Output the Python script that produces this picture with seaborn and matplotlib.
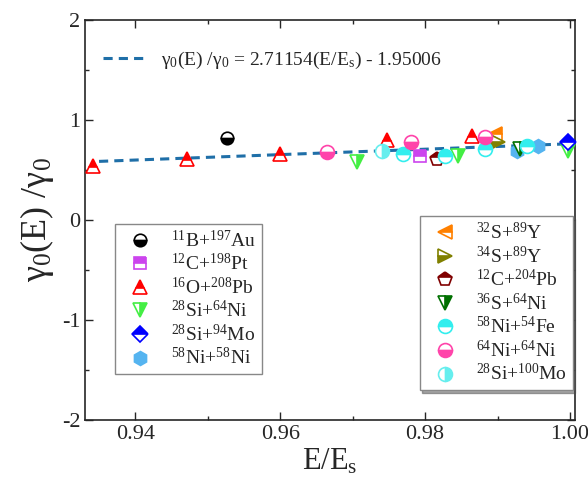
import numpy as np
import pandas as pd
import matplotlib
matplotlib.use('Agg')
import matplotlib.pyplot as plt
import seaborn as sns
from matplotlib.ticker import MultipleLocator

sns.set_style('ticks')
plt.rcParams['font.family'] = ['Liberation Serif', 'DejaVu Serif']
plt.rcParams['mathtext.fontset'] = 'custom'
plt.rcParams['mathtext.rm'] = 'Liberation Serif'
plt.rcParams['mathtext.it'] = 'Liberation Serif'
plt.rcParams['axes.unicode_minus'] = False

# ---- data ----
reactions = ['$^{11}$B+$^{197}$Au', '$^{12}$C+$^{198}$Pt', '$^{16}$O+$^{208}$Pb',
             '$^{28}$Si+$^{64}$Ni', '$^{28}$Si+$^{94}$Mo', '$^{58}$Ni+$^{58}$Ni',
             '$^{32}$S+$^{89}$Y', '$^{34}$S+$^{89}$Y', '$^{12}$C+$^{204}$Pb',
             '$^{36}$S+$^{64}$Ni', '$^{58}$Ni+$^{54}$Fe', '$^{64}$Ni+$^{64}$Ni',
             '$^{28}$Si+$^{100}$Mo']
x_vals = [[0.9527], [0.9793], [0.9342, 0.9472, 0.9600, 0.9748, 0.9865],
          [0.9706, 0.9846, 0.9997], [0.9997], [0.9927, 0.9956],
          [0.9897], [0.9901], [0.9817], [0.9931],
          [0.9770, 0.9828, 0.9883, 0.9941], [0.9665, 0.9780, 0.9883], [0.9740]]
y_vals = [[0.82], [0.64], [0.54, 0.61, 0.66, 0.80, 0.84],
          [0.58, 0.64, 0.69], [0.78], [0.69, 0.74],
          [0.86], [0.78], [0.61], [0.71],
          [0.66, 0.64, 0.71, 0.74], [0.68, 0.78, 0.83], [0.69]]
slope, intercept = 2.71154, -1.95006
fit_x = [0.935, 1.0]

styles = [  # marker, color, fillstyle, size
    ('o', 'black', 'bottom', 9),
    ('s', '#cc44ee', 'top', 8),
    ('^', 'red', 'top', 10),
    ('v', '#44ee44', 'right', 10),
    ('D', 'blue', 'top', 8),
    ('h', '#55b4f0', 'full', 10),
    ('<', '#ff8000', 'top', 10),
    ('>', '#808000', 'bottom', 10),
    ('p', '#800000', 'top', 10),
    ('v', '#007000', 'right', 10),
    ('o', '#33eeee', 'top', 10),
    ('o', '#ff44aa', 'bottom', 10),
    ('o', '#66eeee', 'right', 10),
]

fig = plt.figure(figsize=(5.88, 4.86), dpi=100)
ax = fig.add_axes([0.145, 0.136, 0.833, 0.823])

fit_df = pd.DataFrame({'x': fit_x, 'y': [slope * v + intercept for v in fit_x]})
sns.lineplot(data=fit_df, x='x', y='y', ax=ax, color='#1f6fa8', lw=2.2,
             linestyle=(0, (3, 2)),
             label='γ$_0$(E) /γ$_0$ = 2.71154(E/E$_\\mathrm{s}$) - 1.95006')

handles = []
for name, xs, ys, (m, c, fs, s) in zip(reactions, x_vals, y_vals, styles):
    h, = ax.plot(xs, ys, ls='none', marker=m, color=c, mec=c, mfc=c,
                 fillstyle=fs, markerfacecoloralt='white', ms=s, mew=1.2,
                 label=name, clip_on=False, zorder=3)
    handles.append(h)

leg0 = ax.legend(handles=[ax.get_lines()[0]], loc='upper left',
                 bbox_to_anchor=(0.0, 0.97), frameon=False, fontsize=14,
                 handlelength=2.2)
ax.add_artist(leg0)
leg1 = ax.legend(handles=handles[:6], loc='lower left', bbox_to_anchor=(0.04, 0.09),
                 fontsize=14, fancybox=False, edgecolor='#888888', framealpha=1,
                 handletextpad=0.6, borderpad=0.3, labelspacing=0.12)
ax.add_artist(leg1)
leg2 = ax.legend(handles=handles[6:], loc='lower right', bbox_to_anchor=(1.015, 0.05),
                 fontsize=14, fancybox=False, shadow=True, edgecolor='#888888',
                 framealpha=1, handletextpad=0.6, borderpad=0.3, labelspacing=0.12)

ax.set_xlim(0.9331, 1.0007)
ax.set_ylim(-2, 2)
ax.xaxis.set_major_locator(MultipleLocator(0.02))
ax.xaxis.set_minor_locator(MultipleLocator(0.01))
ax.yaxis.set_major_locator(MultipleLocator(1))
ax.yaxis.set_minor_locator(MultipleLocator(0.5))
ax.xaxis.set_major_formatter(matplotlib.ticker.FormatStrFormatter('%.2f'))
ax.tick_params(which='both', direction='in', top=True, right=True, labelsize=16)
ax.tick_params(which='major', length=6, width=1)
ax.tick_params(which='minor', length=3, width=1)
for sp in ax.spines.values():
    sp.set_linewidth(1.2)
ax.set_xlabel('E/E$_\\mathrm{s}$', fontsize=22, labelpad=2)
ax.set_ylabel('γ$_0$(E) /γ$_0$', fontsize=26, labelpad=4)

fig.savefig('out.png', dpi=100)
